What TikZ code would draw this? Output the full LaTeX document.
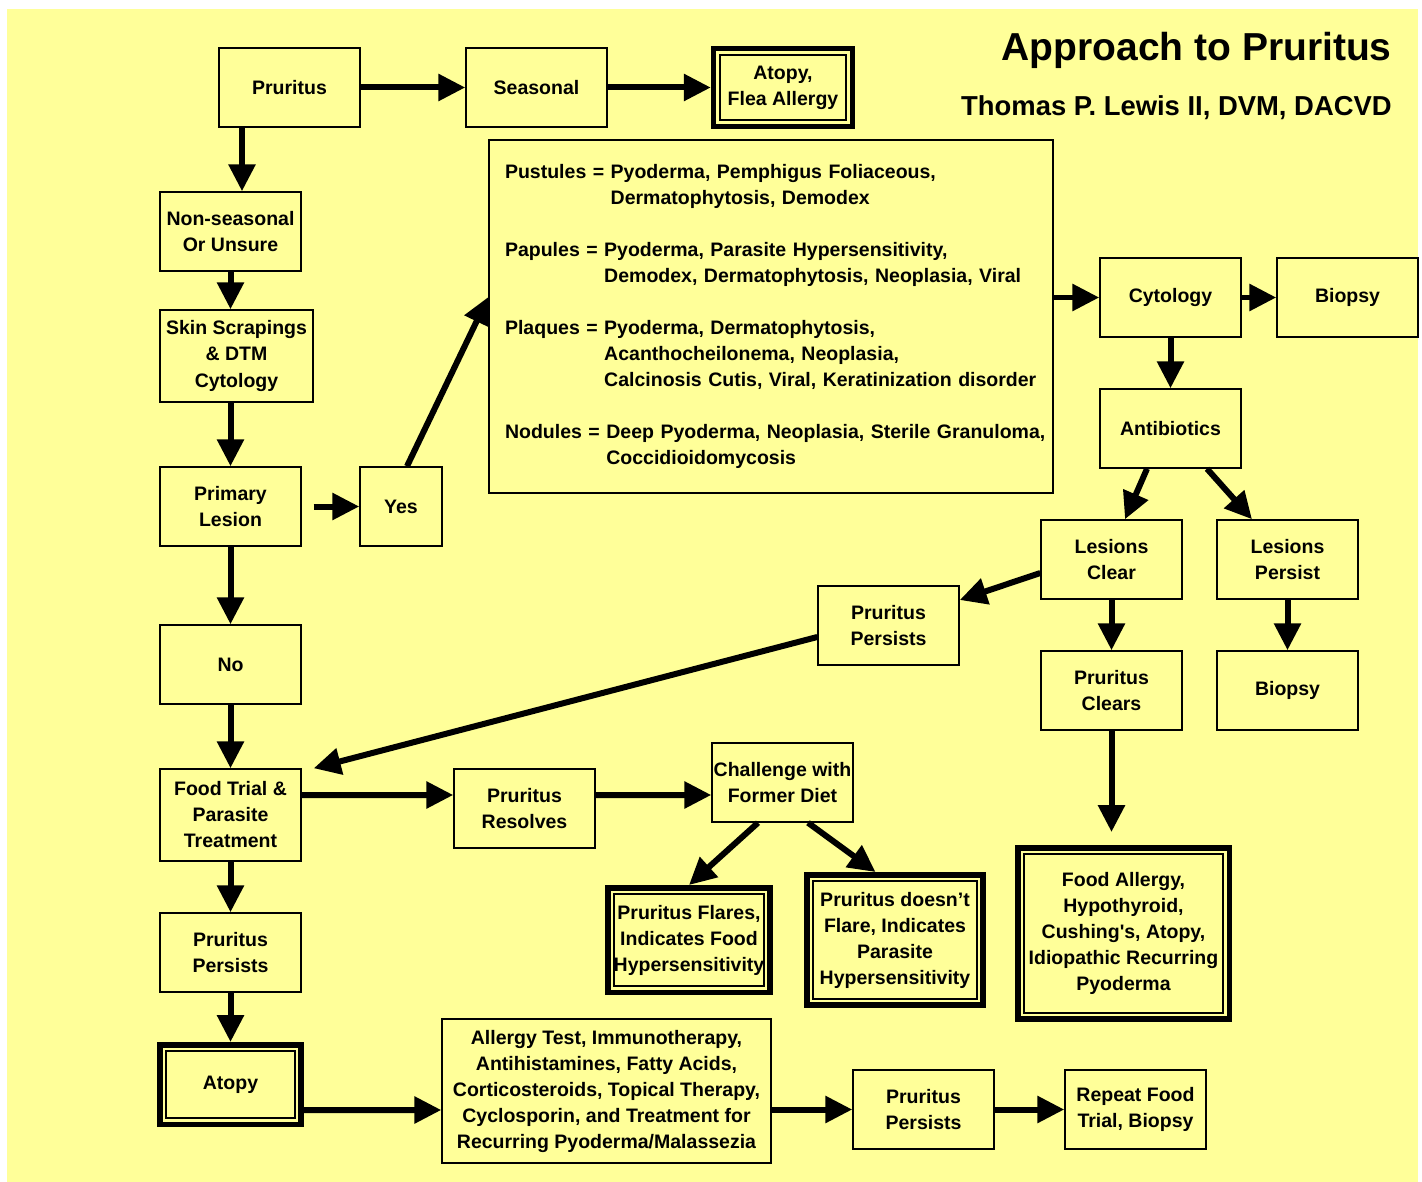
\documentclass[tikz,border=0pt]{standalone}
\usepackage{fontspec}
\setmainfont{Liberation Sans}
\usepackage{xcolor}
\definecolor{pad}{HTML}{FFFF99}
\definecolor{ink}{HTML}{000000}
\usetikzlibrary{arrows.meta,positioning}
\newcommand{\boxfont}{\fontsize{11.1pt}{14.8pt}\selectfont\bfseries}

\begin{document}
\begin{tikzpicture}[x=0.02cm,y=-0.02cm,
  font=\boxfont,
  box/.style={draw=ink,fill=pad,line width=0.03cm,minimum width=2.82cm,
    minimum height=1.58cm,align=center,inner sep=0.5pt},
  endbox/.style={box,line width=0.11cm},
  arr/.style={-{Triangle[length=0.54cm,width=0.52cm]},line width=0.12cm,ink}]
% page and yellow slide
\fill[white] (0,0) rectangle (1422,1182);
\fill[pad] (7,9) rectangle (1418,1182);
\node[anchor=base east,inner sep=0pt,font=\fontsize{22.2pt}{26pt}\selectfont\bfseries] (title)
  at (1392,61) {Approach to Pruritus};
\node[anchor=base east,inner sep=0pt,font=\fontsize{15.6pt}{18pt}\selectfont\bfseries] (author)
  at (1392,116) {Thomas P. Lewis II, DVM, DACVD};
% top row
\node[box] (prur) at (289.5,87.5) {Pruritus};
\node[box] (seas) at (536.5,87.5) {Seasonal};
\node[endbox,minimum width=2.78cm,minimum height=1.56cm] (afl) at (783,87.5)
  {Atopy,\\Flea Allergy};
% left column
\node[box] (nons) at (230.5,231.5) {Non-seasonal\\Or Unsure};
\node[box,minimum width=3.06cm,minimum height=1.84cm] (skin) at (236.5,356)
  {Skin Scrapings\\\& DTM\\Cytology};
\node[box] (prim) at (230.5,506.5) {Primary\\Lesion};
\node[box,minimum width=1.64cm] (yes) at (401,506.5) {Yes};
\node[box] (no) at (230.5,664.5) {No};
\node[box,minimum height=1.84cm] (food) at (230.5,815)
  {Food Trial \&\\Parasite\\Treatment};
\node[box] (ppl) at (230.5,952.5) {Pruritus\\Persists};
\node[endbox,minimum width=2.83cm,minimum height=1.59cm] (atop) at (230.5,1084.5) {Atopy};
% lesion list
\node[box,text width=10.64cm,inner xsep=0.32cm,align=left,minimum height=7.06cm]
  (les) at (771,316.5) {%
  Pustules = Pyoderma, Pemphigus Foliaceous,\\
  \phantom{Pustules = }Dermatophytosis, Demodex\\[14.8pt]
  Papules = Pyoderma, Parasite Hypersensitivity,\\
  \phantom{Papules = }Demodex, Dermatophytosis, Neoplasia, Viral\\[14.8pt]
  Plaques = Pyoderma, Dermatophytosis,\\
  \phantom{Plaques = }Acanthocheilonema, Neoplasia,\\
  \phantom{Plaques = }Calcinosis Cutis, Viral, Keratinization disorder\\[14.8pt]
  \mbox{Nodules = Deep Pyoderma, Neoplasia, Sterile Granuloma,}\\
  \phantom{Nodules = }Coccidioidomycosis};
% right side
\node[box] (cyto) at (1170.5,297.5) {Cytology};
\node[box] (bio1) at (1347.5,297.5) {Biopsy};
\node[box] (anti) at (1170.5,428.5) {Antibiotics};
\node[box] (lclr) at (1111.5,559.5) {Lesions\\Clear};
\node[box] (lper) at (1287.5,559.5) {Lesions\\Persist};
\node[box] (ppm) at (888.5,625.5) {Pruritus\\Persists};
\node[box] (pclr) at (1111.5,690.5) {Pruritus\\Clears};
\node[box] (bio2) at (1287.5,690.5) {Biopsy};
\node[endbox,minimum width=4.23cm,minimum height=3.43cm] (fall) at (1123.5,933.5)
  {Food Allergy,\\Hypothyroid,\\Cushing\textquotesingle s, Atopy,\\Idiopathic Recurring\\Pyoderma};
% food trial branch
\node[box] (res) at (524.5,808.5) {Pruritus\\Resolves};
\node[box] (chal) at (782.5,782.5) {Challenge with\\Former Diet};
\node[endbox,minimum width=3.25cm,minimum height=2.09cm] (flar) at (689,940)
  {Pruritus Flares,\\Indicates Food\\Hypersensitivity};
\node[endbox,minimum width=3.53cm,minimum height=2.61cm] (nofl) at (895,940)
  {Pruritus doesn’t\\Flare, Indicates\\Parasite\\Hypersensitivity};
% bottom row
\node[box,minimum width=6.58cm,minimum height=2.88cm] (allg) at (606.5,1091)
  {Allergy Test, Immunotherapy,\\Antihistamines, Fatty Acids,\\Corticosteroids, Topical Therapy,\\Cyclosporin, and Treatment for\\Recurring Pyoderma/Malassezia};
\node[box] (ppb) at (923.5,1109.5) {Pruritus\\Persists};
\node[box] (rep) at (1135.5,1109.5) {Repeat Food\\Trial, Biopsy};
% inner frame of the end boxes
\foreach \n in {afl,flar,nofl,fall,atop}
  \draw[ink,line width=0.035cm] ([shift={(0.18cm,0.18cm)}]\n.south west)
    rectangle ([shift={(-0.18cm,-0.18cm)}]\n.north east);
% arrows
\draw[arr] (prur) -- (seas);
\draw[arr] (seas) -- (afl);
\draw[arr] ([xshift=0.23cm]nons.north |- prur.south) -- ([xshift=0.23cm]nons.north);
\draw[arr] (nons.south) -- (nons.south |- skin.north);
\draw[arr] (prim.north |- skin.south) -- (prim.north);
\draw[arr] ([xshift=0.24cm]prim.east) -- (yes.west);
\draw[arr] ([xshift=0.12cm]yes.north) -- ([yshift=0.39cm]les.west);
\draw[arr] (les.east |- cyto.west) -- (cyto.west);
\draw[arr] (cyto) -- (bio1);
\draw[arr] (cyto) -- (anti);
\draw[arr] ([xshift=-0.47cm]anti.south) -- ([xshift=0.27cm]lclr.north);
\draw[arr] ([xshift=0.73cm]anti.south) -- ([xshift=-0.71cm]lper.north);
\draw[arr] ([yshift=-0.27cm]lclr.west) -- ([yshift=0.51cm]ppm.east);
\draw[arr] (lclr) -- (pclr);
\draw[arr] (lper) -- (bio2);
\coordinate (faTop) at ([yshift=0.26cm]fall.north);
\draw[arr] (pclr.south) -- (pclr.south |- faTop);
\draw[arr] ([yshift=-0.23cm]ppm.west) -- ([xshift=0.24cm]food.north east);
\draw[arr] (prim) -- (no);
\draw[arr] (no) -- (food);
\draw[arr] ([yshift=0.4cm]food.east) -- ([yshift=0.27cm]res.west);
\draw[arr] ([yshift=0.27cm]res.east) -- ([yshift=-0.25cm]chal.west);
\draw[arr] ([xshift=-0.49cm]chal.south) -- (flar.north);
\draw[arr] ([xshift=0.51cm]chal.south) -- ([xshift=-0.39cm]nofl.north);
\draw[arr] (food) -- (ppl);
\draw[arr] (ppl) -- (atop);
\draw[arr] ([yshift=-0.51cm]atop.east) -- ([yshift=-0.38cm]allg.west);
\draw[arr] (allg.east |- ppb.west) -- (ppb.west);
\draw[arr] (ppb) -- (rep);
\end{tikzpicture}
\end{document}
